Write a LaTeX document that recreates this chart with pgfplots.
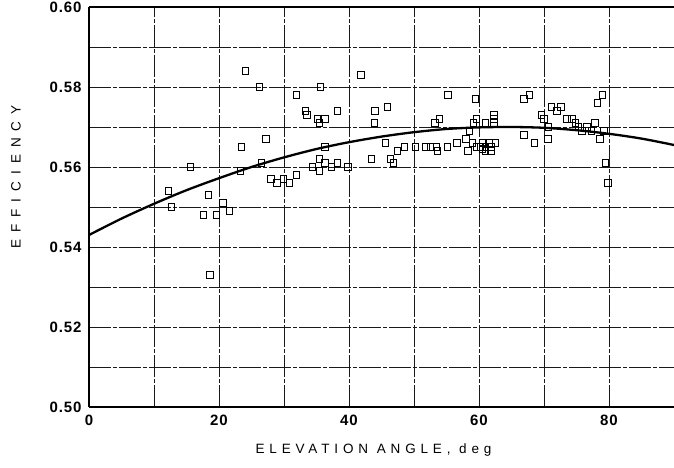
\documentclass[border=0pt]{standalone}
\usepackage{fontspec}
\setmainfont{Liberation Sans}
\usepackage{pgfplots}
\pgfplotsset{compat=1.18}

\newfontfamily\xlabfont[LetterSpace=36]{Liberation Sans}
\newfontfamily\ylabfont[LetterSpace=52]{Liberation Sans}
\newfontfamily\tickfont[LetterSpace=6]{Liberation Sans}

\begin{document}
\begin{tikzpicture}
\begin{axis}[
    scale only axis,
    width=585pt, height=400pt,
    xmin=0, xmax=90,
    ymin=0.50, ymax=0.60,
    xtick={0,20,40,60,80},
    ytick={0.50,0.52,0.54,0.56,0.58,0.60},
    minor xtick={10,30,50,70,90},
    minor ytick={0.51,0.53,0.55,0.57,0.59},
    grid=both,
    grid style={black!90, line width=0.6pt, dash pattern=on 22pt off 2pt on 4pt off 2pt},
    major tick length=0pt, minor tick length=0pt,
    axis x line*=box, axis y line*=left,
    axis line style={line width=1.6pt},
    /pgf/number format/assume math mode=true,
    ticklabel style={font=\tickfont\bfseries\fontsize{15}{15}\selectfont},
    yticklabel style={/pgf/number format/fixed, /pgf/number format/fixed zerofill, /pgf/number format/precision=2, xshift=-4pt},
    xticklabel style={yshift=-4pt},
    xlabel={\xlabfont\fontsize{13.5}{13.5}\selectfont ELEVATION ANGLE, deg},
    ylabel={\ylabfont\fontsize{13.5}{13.5}\selectfont EFFICIENCY},
    every axis x label/.style={at={(rel axis cs:0.5,0)}, anchor=center, yshift=-43pt, xshift=-8pt},
    every axis y label/.style={at={(rel axis cs:0,0.575)}, anchor=center, rotate=90, yshift=73pt},
]
\coordinate (bl) at (rel axis cs:0,0);
\coordinate (tr) at (rel axis cs:1,1);

\addplot[only marks, mark=square, mark size=3.2pt, mark options={black, line width=0.7pt, fill=white}] coordinates {
(12.2,0.554) (12.7,0.550) (15.6,0.560) (17.6,0.548) (18.4,0.553) (18.6,0.533)
(19.6,0.548) (20.6,0.551) (21.6,0.549) (23.3,0.559) (23.4,0.565) (24.1,0.584)
(26.2,0.580) (26.5,0.561) (27.2,0.567) (28.0,0.557) (28.9,0.556) (29.9,0.557)
(30.8,0.556) (31.9,0.558) (31.9,0.578) (33.3,0.574) (33.5,0.573) (35.1,0.572)
(35.4,0.571) (36.3,0.572) (35.6,0.580) (38.2,0.574) (41.8,0.583) (36.3,0.565)
(35.4,0.562) (34.4,0.560) (35.4,0.559) (36.3,0.561) (37.3,0.560) (38.2,0.561)
(39.8,0.560) (43.9,0.571) (44.0,0.574) (45.9,0.575) (45.6,0.566) (43.4,0.562)
(46.4,0.562) (46.8,0.561) (47.4,0.564) (48.5,0.565) (50.2,0.565) (51.8,0.565)
(52.5,0.565) (53.4,0.565) (53.6,0.564) (55.1,0.565) (56.6,0.566) (53.9,0.572)
(53.2,0.571) (55.2,0.578) (59.4,0.577) (59.6,0.572) (59.1,0.571) (58.5,0.569)
(58.0,0.567) (58.3,0.564) (59.0,0.566) (59.6,0.565) (60.2,0.565) (60.6,0.566)
(61.0,0.565) (61.5,0.566) (61.8,0.565) (62.5,0.566) (61.0,0.564) (61.8,0.564)
(60.5,0.5645) (61.0,0.571) (62.3,0.571) (62.3,0.572) (62.3,0.573) (66.9,0.577)
(67.7,0.578) (66.9,0.568) (68.5,0.566) (70.6,0.567) (69.6,0.573) (70.0,0.572)
(70.7,0.570) (71.1,0.575) (72.6,0.575) (72.0,0.574) (73.5,0.572) (74.3,0.572)
(74.8,0.571) (75.3,0.570) (75.8,0.569) (76.6,0.570) (77.3,0.569) (77.8,0.571)
(79.2,0.569) (78.6,0.567) (79.0,0.578) (78.2,0.576) (79.4,0.561) (79.8,0.556)
};

\addplot[black, line width=2.3pt, smooth, no marks] coordinates {
(0,0.5430) (5,0.5471) (10,0.5508) (15,0.5542) (20,0.5572) (25,0.5600)
(30,0.5624) (35,0.5645) (40,0.5662) (45,0.5676) (50,0.5687) (55,0.5695)
(60,0.5699) (65,0.5700) (70,0.5698) (75,0.5692) (80,0.5683) (85,0.5671)
(90,0.5655)
};
\end{axis}
\pgfresetboundingbox
\useasboundingbox ([xshift=-89pt,yshift=-61pt]bl) rectangle ([yshift=7pt]tr);
\end{tikzpicture}
\end{document}
